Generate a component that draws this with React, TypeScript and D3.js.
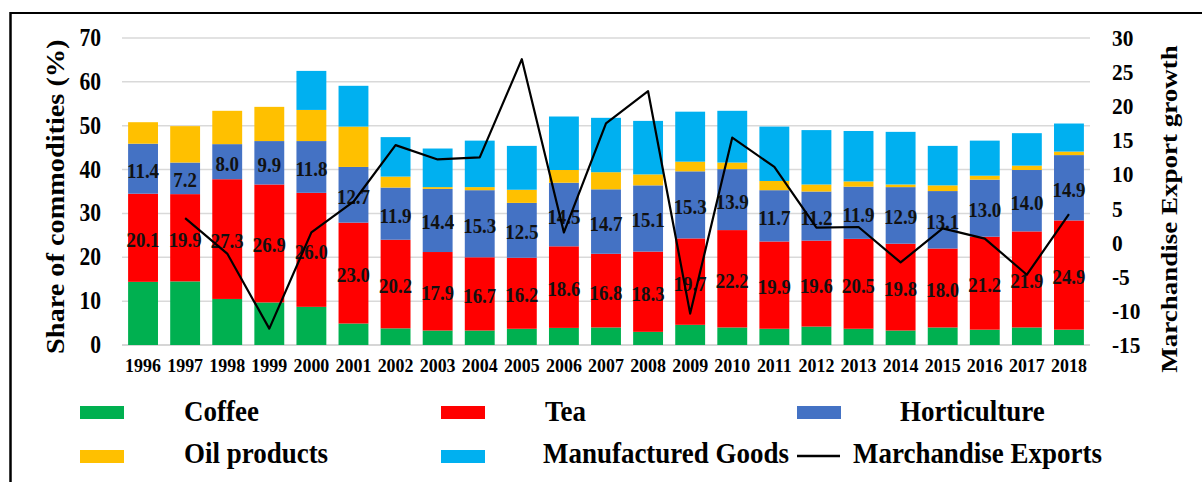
import React from "react";
import * as d3 from "d3";

const years = ["1996","1997","1998","1999","2000","2001","2002","2003","2004","2005","2006","2007","2008","2009","2010","2011","2012","2013","2014","2015","2016","2017","2018"];
const coffee = [14.4,14.5,10.5,9.7,8.7,4.9,3.8,3.3,3.3,3.7,3.9,4.0,3.0,4.6,4.0,3.7,4.2,3.7,3.3,4.0,3.5,4.0,3.5];
const tea = [20.1,19.9,27.3,26.9,26.0,23.0,20.2,17.9,16.7,16.2,18.6,16.8,18.3,19.7,22.2,19.9,19.6,20.5,19.8,18.0,21.2,21.9,24.9];
const horticulture = [11.4,7.2,8.0,9.9,11.8,12.7,11.9,14.4,15.3,12.5,14.5,14.7,15.1,15.3,13.9,11.7,11.2,11.9,12.9,13.1,13.0,14.0,14.9];
const oil = [4.9,8.3,7.6,7.8,7.1,9.2,2.5,0.4,0.7,3.0,2.9,3.9,2.5,2.2,1.5,2.1,1.6,1.2,0.6,1.3,0.9,1.0,0.8];
const manufactured = [0,0,0,0,8.9,9.3,9.0,8.8,10.6,10.0,12.2,12.4,12.2,11.4,11.8,12.4,12.4,11.5,12.0,9.0,8.0,7.4,6.4];
const exportGrowth: (number | null)[] = [null,3.6,-1.6,-12.6,1.5,6.0,14.3,12.2,12.5,26.9,1.5,17.5,22.2,-10.4,15.4,11.1,2.2,2.3,-2.9,2.1,0.6,-4.7,4.2];
const leftTicks = [0,10,20,30,40,50,60,70];
const rightTicks = [-15,-10,-5,0,5,10,15,20,25,30];

const seriesNames = ["Coffee","Tea","Horticulture","Oil products","Manufactured Goods"];
const seriesColors = ["#00B050","#FF0000","#4472C4","#FFC000","#00B0F0"];
const seriesData = [coffee, tea, horticulture, oil, manufactured];
const labelledSeries = [1, 2];

const FONT = "'Liberation Serif', 'Times New Roman', serif";

export default function App() {
  const W = 1202, H = 482;
  const x = d3.scaleBand<string>().domain(years).range([122, 1090]).paddingInner(0.29).paddingOuter(0.145);
  const yL = d3.scaleLinear().domain([0, 70]).range([345, 38]);
  const yR = d3.scaleLinear().domain([-15, 30]).range([345, 38]);

  const table = years.map((yr, i) => {
    const row: any = { year: yr };
    seriesNames.forEach((n, k) => (row[n] = seriesData[k][i]));
    return row;
  });
  const stacked = d3.stack<any>().keys(seriesNames)(table);

  const line = d3
    .line<number | null>()
    .defined((d) => d !== null)
    .x((_, i) => (x(years[i]) as number) + x.bandwidth() / 2)
    .y((d) => yR(d as number));

  const bw = x.bandwidth();

  const legendItems = [
    { name: "Coffee", color: seriesColors[0], sx: 80, sy: 406, tx: 184, ty: 421 },
    { name: "Tea", color: seriesColors[1], sx: 441, sy: 406, tx: 545, ty: 421 },
    { name: "Horticulture", color: seriesColors[2], sx: 797, sy: 406, tx: 900, ty: 421 },
    { name: "Oil products", color: seriesColors[3], sx: 80, sy: 450, tx: 184, ty: 463 },
    { name: "Manufactured Goods", color: seriesColors[4], sx: 441, sy: 450, tx: 543, ty: 463 },
  ];

  return (
    <svg width={W} height={H} style={{ position: "absolute", left: 0, top: 0, background: "#fff" }} fontFamily={FONT} fontWeight="bold">
      <rect x={0} y={0} width={W} height={H} fill="#fff" />
      <line x1={10} y1={13} x2={W} y2={13} stroke="#000" strokeWidth={2} />
      <line x1={10.5} y1={12} x2={10.5} y2={H} stroke="#000" strokeWidth={2.5} />

      {leftTicks.map((t) => (
        <line key={"g" + t} x1={122} x2={1090} y1={yL(t)} y2={yL(t)} stroke={t === 0 ? "#c8c8c8" : "#d9d9d9"} strokeWidth={1.5} />
      ))}

      {stacked.map((s, k) => (
        <g key={s.key} fill={seriesColors[k]}>
          {s.map((d, i) => (
            <rect key={i} x={x(years[i])} y={yL(d[1])} width={bw} height={Math.max(0, yL(d[0]) - yL(d[1]))} />
          ))}
        </g>
      ))}

      {labelledSeries.map((k) =>
        stacked[k].map((d, i) => {
          const cx = (x(years[i]) as number) + bw / 2;
          const cy = yL((d[0] + d[1]) / 2) + 9;
          return (
            <text key={k + "-" + i} transform={`translate(${cx},${cy}) scale(0.92,1)`} textAnchor="middle" fontSize={20.5} fill="#111">
              {seriesData[k][i].toFixed(1)}
            </text>
          );
        })
      )}

      <path d={line(exportGrowth) || ""} fill="none" stroke="#000" strokeWidth={2.2} strokeLinejoin="round" />

      {leftTicks.map((t) => (
        <text key={"l" + t} transform={`translate(101,${yL(t) + 8}) scale(0.88,1)`} textAnchor="end" fontSize={24.5}>
          {t}
        </text>
      ))}
      {rightTicks.map((t) => (
        <text key={"r" + t} transform={`translate(1112,${yR(t) + 8}) scale(0.95,1)`} textAnchor="start" fontSize={22.5}>
          {t}
        </text>
      ))}
      {years.map((yr) => (
        <text key={"y" + yr} transform={`translate(${(x(yr) as number) + bw / 2},372) scale(0.97,1)`} textAnchor="middle" fontSize={18.5}>
          {yr}
        </text>
      ))}

      <text transform="translate(64,196.7) rotate(-90) scale(1,0.86)" textAnchor="middle" fontSize={28.3}>
        Share of commodities (%)
      </text>
      <text transform="translate(1177,209) rotate(-90) scale(1,0.88)" textAnchor="middle" fontSize={27}>
        Marchandise Export growth
      </text>

      {legendItems.map((it) => (
        <g key={it.name}>
          <rect x={it.sx} y={it.sy} width={44} height={13} fill={it.color} />
          <text transform={`translate(${it.tx},${it.ty}) scale(0.93,1)`} fontSize={29}>
            {it.name}
          </text>
        </g>
      ))}
      <line x1={797} x2={840} y1={456} y2={456} stroke="#000" strokeWidth={2.5} />
      <text transform="translate(853,463) scale(0.93,1)" fontSize={29}>
        Marchandise Exports
      </text>
    </svg>
  );
}
